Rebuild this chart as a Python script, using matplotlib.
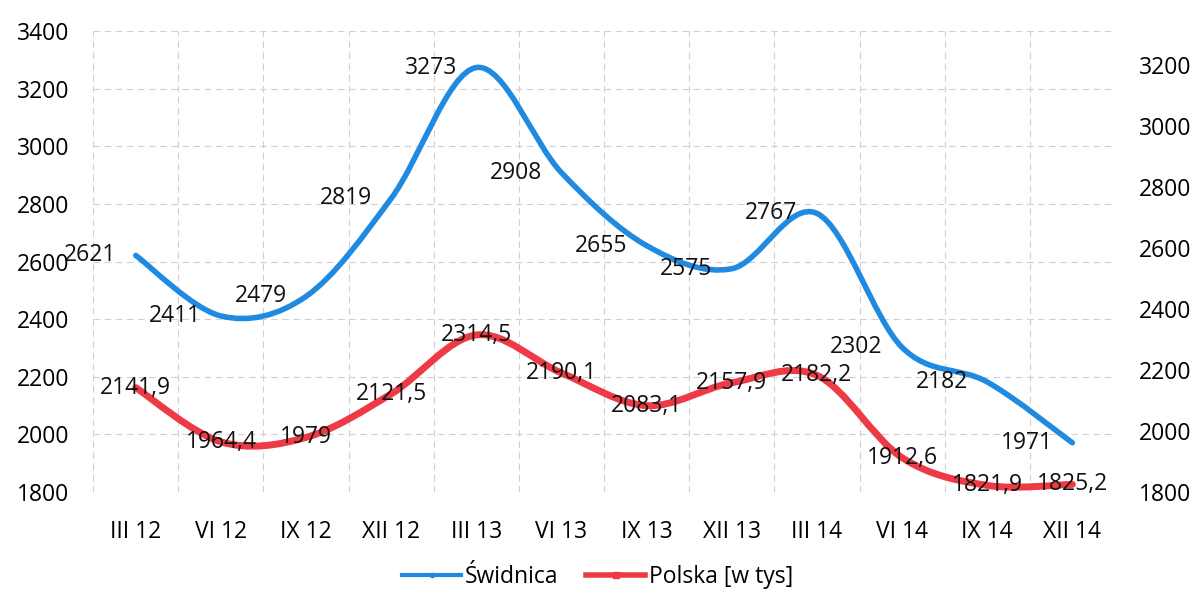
import matplotlib
matplotlib.use("Agg")
import matplotlib.pyplot as plt
from matplotlib.path import Path
from matplotlib.patches import PathPatch
from matplotlib.lines import Line2D

categories = ["III 12", "VI 12", "IX 12", "XII 12", "III 13", "VI 13",
              "IX 13", "XII 13", "III 14", "VI 14", "IX 14", "XII 14"]
swidnica = [2621, 2411, 2479, 2819, 3273, 2908, 2655, 2575, 2767, 2302, 2182, 1971]
polska = [2141.9, 1964.4, 1979, 2121.5, 2314.5, 2190.1, 2083.1, 2157.9,
          2182.2, 1912.6, 1821.9, 1825.2]
left_ticks = [1800, 2000, 2200, 2400, 2600, 2800, 3000, 3200, 3400]
right_ticks = [1800, 2000, 2200, 2400, 2600, 2800, 3000, 3200]

BLUE = "#1f8ae0"
RED = "#ee3a45"
FONT = ["Open Sans", "DejaVu Sans"]
plt.rcParams["font.family"] = FONT
FS = 16.5


def smooth_path(xs, ys):
    n = len(xs)
    verts = [(xs[0], ys[0])]
    codes = [Path.MOVETO]
    for i in range(n - 1):
        x0, y0 = (xs[i - 1], ys[i - 1]) if i > 0 else (xs[i], ys[i])
        x1, y1 = xs[i], ys[i]
        x2, y2 = xs[i + 1], ys[i + 1]
        x3, y3 = (xs[i + 2], ys[i + 2]) if i + 2 < n else (xs[i + 1], ys[i + 1])
        c1 = (x1 + (x2 - x0) / 6.0, y1 + (y2 - y0) / 6.0)
        c2 = (x2 - (x3 - x1) / 6.0, y2 - (y3 - y1) / 6.0)
        verts += [c1, c2, (x2, y2)]
        codes += [Path.CURVE4] * 3
    return Path(verts, codes)


def fmt(v):
    if float(v).is_integer():
        return str(int(v))
    return f"{v:.1f}".replace(".", ",")


fig = plt.figure(figsize=(11.95, 5.95), dpi=100)
ax = fig.add_axes([0.078, 0.173, 0.855, 0.775])
ax2 = ax.twinx()

x = list(range(len(categories)))

ax.set_xlim(-0.5, len(categories) - 0.5)
ax.set_ylim(1800, 3400)
ax2.set_ylim(1800, 3310)

# gridlines
for gx in [i - 0.5 for i in range(len(categories) + 1)]:
    ax.axvline(gx, color="#cfcfd8", lw=0.8, ls=(0, (6, 4)), zorder=0)
for gy in left_ticks:
    ax.axhline(gy, color="#cfcfd8", lw=0.8, ls=(0, (6, 4)), zorder=0)

for a in (ax, ax2):
    for s in a.spines.values():
        s.set_visible(False)

ax.set_xticks(x)
ax.set_xticklabels(categories, fontsize=FS)
ax.set_yticks(left_ticks)
ax.set_yticklabels([str(t) for t in left_ticks], fontsize=FS)
ax2.set_yticks(right_ticks)
ax2.set_yticklabels([str(t) for t in right_ticks], fontsize=FS)
ax.tick_params(axis="x", length=0, pad=20)
ax.tick_params(axis="y", length=0, pad=17)
ax2.tick_params(axis="y", length=0, pad=17)

# smoothed lines
p1 = PathPatch(smooth_path(x, swidnica), fill=False, edgecolor=BLUE, lw=4,
               capstyle="round", joinstyle="round", zorder=3)
ax.add_patch(p1)
p2 = PathPatch(smooth_path(x, polska), fill=False, edgecolor=RED, lw=5,
               capstyle="round", joinstyle="round", zorder=3)
ax2.add_patch(p2)

# data labels
for xi, v in zip(x, swidnica):
    ax.annotate(fmt(v), (xi, v), xytext=(-14, 0), textcoords="offset points",
                ha="right", va="center", fontsize=FS, color="#111111", zorder=5)
for xi, v in zip(x, polska):
    ax2.annotate(fmt(v), (xi, v), xytext=(0, 0), textcoords="offset points",
                 ha="center", va="center", fontsize=FS, color="#111111", zorder=5)

handles = [
    Line2D([], [], color=BLUE, lw=3, marker="o", markersize=3),
    Line2D([], [], color=RED, lw=4, marker="s", markersize=4),
]
fig.legend(handles, ["Świdnica", "Polska [w tys]"], loc="center",
           bbox_to_anchor=(0.5, 0.03), ncol=2, frameon=False, fontsize=FS,
           handlelength=2.6, columnspacing=1.2, handletextpad=0.15)

fig.savefig("out.png", dpi=100)
